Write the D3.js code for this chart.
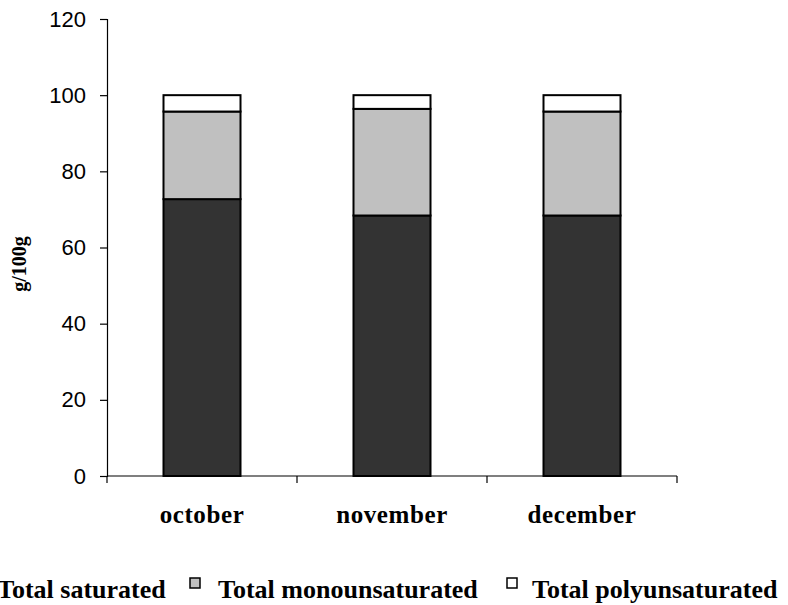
<!DOCTYPE html>
<html>
<head>
<meta charset="utf-8">
<script src="https://cdn.jsdelivr.net/npm/d3@7"></script>
<style>
  html, body { margin: 0; padding: 0; background: #fff; }
  svg { display: block; }
</style>
</head>
<body>
<svg id="chart" width="788" height="605"></svg>
<script>
// Fatty acid composition by month (g/100g)
const months = ["october", "november", "december"];
const saturated = [72.7, 68.4, 68.4];
const monounsaturated = [23.0, 28.0, 27.3];
const polyunsaturated = [4.3, 3.6, 4.3];
const seriesNames = ["Total saturated", "Total monounsaturated", "Total polyunsaturated"];
const seriesColors = ["#333333", "#c0c0c0", "#ffffff"];
const yTicks = [0, 20, 40, 60, 80, 100, 120];

const svg = d3.select("#chart");
const plotLeft = 107, plotRight = 677, plotTop = 19, plotBottom = 476;

const x = d3.scaleBand().domain(months).range([plotLeft, plotRight]).paddingInner(0).paddingOuter(0);
const y = d3.scaleLinear().domain([0, 120]).range([plotBottom, plotTop]);

const rows = months.map((m, i) => ({
  month: m,
  "Total saturated": saturated[i],
  "Total monounsaturated": monounsaturated[i],
  "Total polyunsaturated": polyunsaturated[i]
}));
const stacked = d3.stack().keys(seriesNames)(rows);

const barW = 77;

// stacked bars
svg.append("g").selectAll("g")
  .data(stacked)
  .join("g")
  .attr("fill", (d, i) => seriesColors[i])
  .selectAll("rect")
  .data(d => d)
  .join("rect")
  .attr("x", d => x(d.data.month) + (x.bandwidth() - barW) / 2)
  .attr("y", d => y(d[1]))
  .attr("width", barW)
  .attr("height", d => y(d[0]) - y(d[1]))
  .attr("stroke", "#000")
  .attr("stroke-width", 2);

// y axis
const yAxis = d3.axisLeft(y).tickValues(yTicks).tickSize(7).tickPadding(14).tickFormat(d3.format("d"));
const gy = svg.append("g").attr("transform", `translate(${plotLeft},0)`).call(yAxis);
gy.select(".domain").attr("stroke", "#000").attr("stroke-width", 1.2);
gy.selectAll(".tick line").attr("stroke", "#000").attr("stroke-width", 1.2);
gy.selectAll(".tick text")
  .attr("font-family", "Liberation Sans, Arial, sans-serif")
  .attr("font-size", 22)
  .attr("fill", "#000");

// x axis: ticks on band boundaries
const gx = svg.append("g").attr("transform", `translate(0,${plotBottom})`);
gx.append("line").attr("x1", plotLeft).attr("x2", plotRight).attr("stroke", "#000").attr("stroke-width", 1.2);
const boundaries = months.map(m => x(m)).concat([x(months[months.length - 1]) + x.bandwidth()]);
gx.selectAll("line.tk").data(boundaries).join("line")
  .attr("class", "tk")
  .attr("x1", d => d).attr("x2", d => d)
  .attr("y1", 0).attr("y2", 7)
  .attr("stroke", "#000").attr("stroke-width", 1.2);
gx.selectAll("text").data(months).join("text")
  .attr("x", d => x(d) + x.bandwidth() / 2)
  .attr("y", 47)
  .attr("text-anchor", "middle")
  .attr("font-family", "Liberation Serif, Times New Roman, serif")
  .attr("font-weight", "bold")
  .attr("font-size", 25)
  .attr("letter-spacing", 0.6)
  .attr("fill", "#000")
  .text(d => d);

// y axis title
svg.append("text")
  .attr("transform", "translate(26,264) rotate(-90)")
  .attr("text-anchor", "middle")
  .attr("font-family", "Liberation Serif, Times New Roman, serif")
  .attr("font-weight", "bold")
  .attr("font-size", 20)
  .attr("fill", "#000")
  .text("g/100g");

// legend
const legendItems = [
  { name: seriesNames[0], color: seriesColors[0], swatchX: -30, textX: -3 },
  { name: seriesNames[1], color: seriesColors[1], swatchX: 190, textX: 218 },
  { name: seriesNames[2], color: seriesColors[2], swatchX: 507, textX: 532 }
];
const lg = svg.append("g");
lg.selectAll("rect").data(legendItems).join("rect")
  .attr("x", d => d.swatchX).attr("y", 578)
  .attr("width", 10).attr("height", 10)
  .attr("fill", d => d.color)
  .attr("stroke", "#000").attr("stroke-width", 1.5);
lg.selectAll("text").data(legendItems).join("text")
  .attr("x", d => d.textX).attr("y", 598)
  .attr("font-family", "Liberation Serif, Times New Roman, serif")
  .attr("font-weight", "bold")
  .attr("font-size", 26)
  .attr("fill", "#000")
  .text(d => d.name);
</script>
</body>
</html>
